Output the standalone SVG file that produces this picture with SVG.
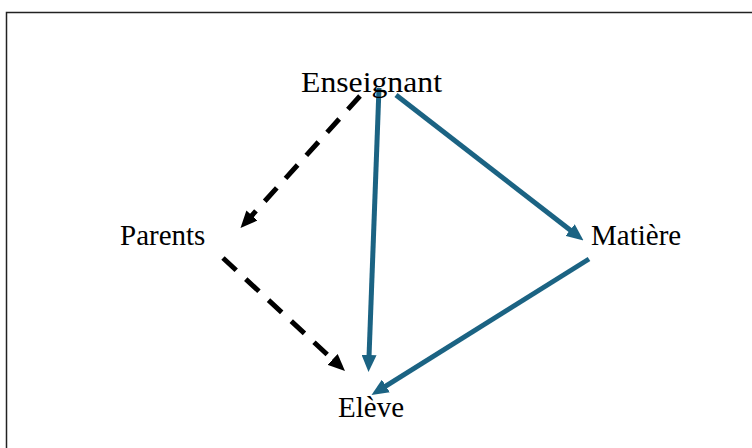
<svg xmlns="http://www.w3.org/2000/svg" width="752" height="448" viewBox="0 0 752 448">
<style>
.lbl{font-family:"Liberation Serif","Times New Roman",serif;font-size:29px;fill:#000}
.blue{stroke:#1b6383;stroke-width:5;fill:none}
.dash{stroke:#000;stroke-width:5;fill:none;stroke-dasharray:18 13}
.tip{stroke:none;fill:none}
</style>
<defs>
<marker id="ab" viewBox="0 0 17 15" refX="17" refY="7.5" markerWidth="17" markerHeight="15" markerUnits="userSpaceOnUse" orient="auto">
<path d="M0,0 L17,7.5 L0,15 z" fill="#000"/>
</marker>
<marker id="au" viewBox="0 0 17 15" refX="17" refY="7.5" markerWidth="17" markerHeight="15" markerUnits="userSpaceOnUse" orient="auto">
<path d="M0,0 L17,7.5 L0,15 z" fill="#1b6383"/>
</marker>
</defs>
<rect x="0" y="0" width="752" height="448" fill="#fff"/>
<rect x="6.5" y="12.5" width="760" height="450" fill="none" stroke="#222" stroke-width="1.5"/>
<g id="connectors">
<path class="dash" d="M360,96 L248.6,219.1"/>
<path class="tip" d="M248.6,219.1 L240.5,228" marker-end="url(#ab)"/>
<path class="dash" d="M223,258 L336.2,362.8"/>
<path class="tip" d="M336.2,362.8 L345,371" marker-end="url(#ab)"/>
<path class="blue" d="M379,88 L368.9,360"/>
<path class="tip" d="M368.9,360 L368.5,372" marker-end="url(#au)"/>
<path class="blue" d="M396,95 L574,233.1"/>
<path class="tip" d="M574,233.1 L583.5,240.5" marker-end="url(#au)"/>
<path class="blue" d="M589,259 L381.7,388.6"/>
<path class="tip" d="M381.7,388.6 L371.5,395" marker-end="url(#au)"/>
</g>
<g id="enseignant"><text class="lbl" x="301" y="92" textLength="141" lengthAdjust="spacingAndGlyphs">Enseignant</text></g>
<g id="parents"><text class="lbl" x="120" y="245">Parents</text></g>
<g id="matiere"><text class="lbl" x="591" y="245">Matière</text></g>
<g id="eleve"><text class="lbl" x="338" y="417">Elève</text></g>
</svg>
